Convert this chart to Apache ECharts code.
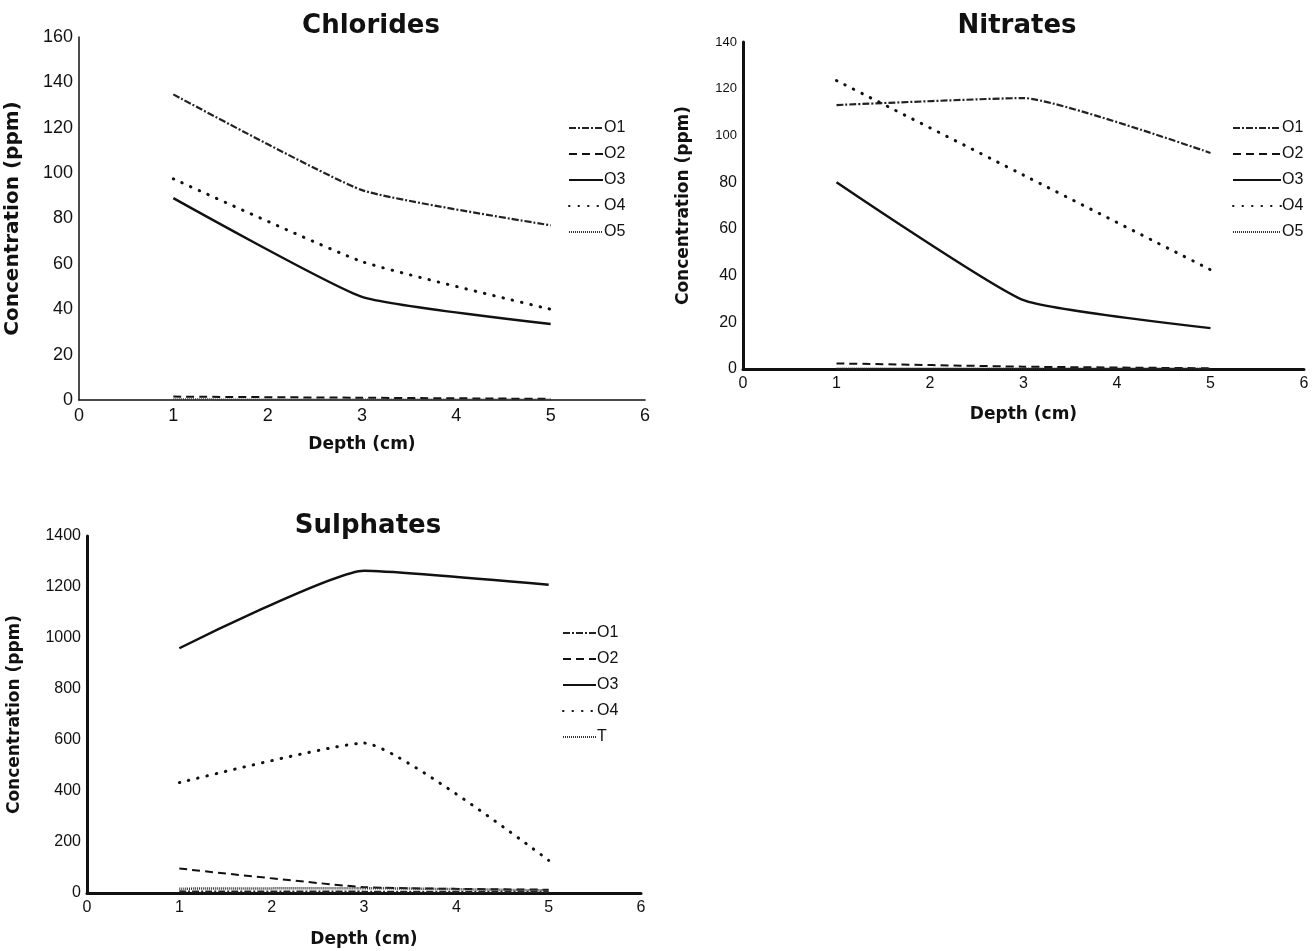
<!DOCTYPE html>
<html>
<head>
<meta charset="utf-8">
<script src="https://cdn.jsdelivr.net/npm/echarts@6/dist/echarts.min.js"></script>
<style>
  html, body { margin: 0; padding: 0; background: #fff; }
  #chart { width: 1312px; height: 951px; }
</style>
</head>
<body>
<div id="chart"></div>
<script>
// depth of the samples (cm)
var depths = [1, 3, 5];

// Chlorides (ppm)
var chlO1 = [134.7, 92.5, 77];
var chlO2 = [1.5, 1, 0.5];
var chlO3 = [89, 45.5, 33.5];
var chlO4 = [97.5, 61, 40];
var chlO5 = [0.3, 0.2, 0.2];

// Nitrates (ppm)
var nitO1 = [113, 116, 92.5];
var nitO2 = [2.4, 1, 0.3];
var nitO3 = [80, 29.5, 17.5];
var nitO4 = [123.5, 83, 42.5];
var nitO5 = [0.2, 0.2, 0.2];

// Sulphates (ppm)
var sulO1 = [6, 5, 4];
var sulO2 = [96, 23, 13];
var sulO3 = [960, 1264, 1209];
var sulO4 = [433, 588, 128];
var sulT = [17, 19, 10];

var legendChl = ['O1', 'O2', 'O3', 'O4', 'O5'];
var legendNit = ['O1', 'O2', 'O3', 'O4', 'O5'];
var legendSul = ['O1', 'O2', 'O3', 'O4', 'T'];

var ink = '#111';

// line look per series name
var lineLook = {
    'O1': { type: [7, 2, 2, 2], width: 2.2, color: '#222' },
    'O2': { type: [8, 5], width: 2, color: ink },
    'O3': { type: 'solid', width: 2.4, color: ink },
    'O4': { type: [0.5, 9], width: 3, color: ink, cap: 'round' },
    'O5': { type: [1, 1], width: 2, color: '#333' },
    'T': { type: [1, 1], width: 2.5, color: '#333' }
};

function pairs(values) {
    var out = [];
    for (var i = 0; i < depths.length; i++) {
        out.push([depths[i], values[i]]);
    }
    return out;
}

function makeSeries(name, values, idx) {
    var look = lineLook[name];
    return {
        name: name,
        type: 'line',
        xAxisIndex: idx,
        yAxisIndex: idx,
        data: pairs(values),
        symbol: 'none',
        smooth: 0.15,
        animation: false,
        lineStyle: {
            color: look.color,
            width: look.width,
            type: look.type,
            cap: look.cap || 'butt'
        },
        itemStyle: { color: look.color }
    };
}

function xAxisFor(idx, nameGap, labelSize, nameSize) {
    return {
        type: 'value',
        gridIndex: idx,
        min: 0,
        max: 6,
        interval: 1,
        name: 'Depth (cm)',
        nameLocation: 'middle',
        nameGap: nameGap,
        nameTextStyle: { fontFamily: 'DejaVu Sans', fontWeight: 'bold', fontSize: nameSize, color: ink },
        axisLine: { show: true, lineStyle: { color: ink, width: idx === 0 ? 1.5 : 3 } },
        axisTick: { show: false },
        splitLine: { show: false },
        axisLabel: { color: ink, fontSize: labelSize, fontFamily: 'Liberation Sans', margin: 7 }
    };
}

function yAxisFor(idx, max, step, nameGap, labelSize, nameSize) {
    return {
        type: 'value',
        gridIndex: idx,
        min: 0,
        max: max,
        interval: step,
        name: 'Concentration (ppm)',
        nameLocation: 'middle',
        nameGap: nameGap,
        nameTextStyle: { fontFamily: 'DejaVu Sans', fontWeight: 'bold', fontSize: nameSize, color: ink },
        axisLine: { show: true, lineStyle: { color: ink, width: idx === 0 ? 1.5 : 3 } },
        axisTick: { show: false },
        splitLine: { show: false },
        axisLabel: {
            color: ink,
            fontSize: labelSize,
            fontFamily: 'Liberation Sans',
            margin: 6,
            formatter: function (v) {
                // nitrates chart prints its top labels smaller
                if (idx === 1 && v >= 100) {
                    return '{s|' + v + '}';
                }
                return '' + v;
            },
            rich: {
                s: { fontSize: 13, fontFamily: 'Liberation Sans', color: ink }
            }
        }
    };
}

function legendFor(names, left, top, lineWidth) {
    return {
        data: names,
        orient: 'vertical',
        left: left,
        top: top,
        padding: 0,
        itemWidth: lineWidth,
        itemHeight: 14,
        itemGap: 10,
        itemStyle: { opacity: 0 },
        textStyle: { color: ink, fontSize: 16, fontFamily: 'Liberation Sans', padding: [0, 0, 0, -4] }
    };
}

function titleFor(text, cx, top) {
    return {
        text: text,
        left: cx,
        top: top,
        textAlign: 'center',
        textStyle: { fontFamily: 'DejaVu Sans', fontWeight: 'bold', fontSize: 26, color: ink }
    };
}

function buildOption() {
    var series = [];
    series.push(makeSeries('O1', chlO1, 0));
    series.push(makeSeries('O2', chlO2, 0));
    series.push(makeSeries('O3', chlO3, 0));
    series.push(makeSeries('O4', chlO4, 0));
    series.push(makeSeries('O5', chlO5, 0));

    series.push(makeSeries('O1', nitO1, 1));
    series.push(makeSeries('O2', nitO2, 1));
    series.push(makeSeries('O3', nitO3, 1));
    series.push(makeSeries('O4', nitO4, 1));
    series.push(makeSeries('O5', nitO5, 1));

    series.push(makeSeries('O1', sulO1, 2));
    series.push(makeSeries('O2', sulO2, 2));
    series.push(makeSeries('O3', sulO3, 2));
    series.push(makeSeries('O4', sulO4, 2));
    series.push(makeSeries('T', sulT, 2));

    return {
        backgroundColor: '#fff',
        animation: false,
        title: [
            titleFor('Chlorides', 366, 8),
            titleFor('Nitrates', 1012, 8),
            titleFor('Sulphates', 363, 508)
        ],
        legend: [
            legendFor(legendChl, 568, 120, 34),
            legendFor(legendNit, 1232, 120, 48),
            legendFor(legendSul, 562, 625, 33)
        ],
        grid: [
            { left: 79, top: 37, width: 566, height: 363 },
            { left: 743, top: 42, width: 561, height: 327 },
            { left: 87, top: 536, width: 554, height: 357 }
        ],
        xAxis: [xAxisFor(0, 36, 18, 17), xAxisFor(1, 37, 16, 17), xAxisFor(2, 38, 16, 17)],
        yAxis: [
            yAxisFor(0, 160, 20, 56, 18, 20),
            yAxisFor(1, 140, 20, 51, 16, 17),
            yAxisFor(2, 1400, 200, 64, 16, 17)
        ],
        series: series
    };
}

var myChart = echarts.init(document.getElementById('chart'));
myChart.setOption(buildOption());
</script>
</body>
</html>
